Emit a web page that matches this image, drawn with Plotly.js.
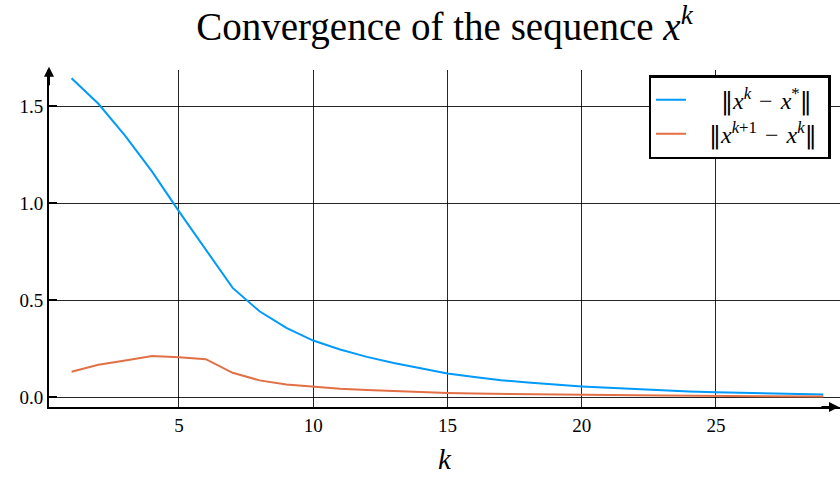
<!DOCTYPE html>
<html>
<head>
<meta charset="utf-8">
<script src="https://cdn.plot.ly/plotly-3.0.1.min.js"></script>
<style>
  body { margin: 0; background: #fff; }
  #chart { width: 840px; height: 477px; }
</style>
</head>
<body>
<div id="chart"></div>
<script>
// iteration index
const k = [1, 2, 3, 4, 5, 6, 7, 8, 9, 10, 11, 12, 13, 14, 15, 16, 17, 18, 19, 20,
           21, 22, 23, 24, 25, 26, 27, 28, 29];

// ||x^k - x^*||
const errStar = [1.644, 1.512, 1.347, 1.163, 0.958, 0.761, 0.564, 0.444, 0.358, 0.293,
                 0.247, 0.209, 0.178, 0.151, 0.124, 0.105, 0.089, 0.077, 0.066, 0.057,
                 0.050, 0.043, 0.037, 0.031, 0.027, 0.023, 0.020, 0.017, 0.015];

// ||x^{k+1} - x^k||
const errStep = [0.132, 0.168, 0.190, 0.214, 0.207, 0.197, 0.127, 0.088, 0.067, 0.055,
                 0.045, 0.039, 0.033, 0.028, 0.023, 0.020, 0.018, 0.016, 0.014, 0.013,
                 0.012, 0.011, 0.010, 0.009, 0.008, 0.007, 0.006, 0.006, 0.005];

const xTicks = [5, 10, 15, 20, 25];
const yTicks = [0, 0.5, 1.0, 1.5];
const yTickText = ['0.0', '0.5', '1.0', '1.5'];

const serif = '"Liberation Serif", "DejaVu Serif", serif';
// the double bar is missing from Liberation Serif, take it from DejaVu Serif
const bar = '<span style="font-family:DejaVu Serif">‖</span>';
const sp = '\u00a0';
const minus = '\u2004−\u2004';

const traces = [
    {
        x: k, y: errStar,
        mode: 'lines', type: 'scatter',
        name: sp.repeat(5) + bar + '<i>x</i><sup><i>k</i></sup>' + minus + '<i>x</i><sup>*</sup>' + bar,
        line: { color: '#009AFA', width: 2 }
    },
    {
        x: k, y: errStep,
        mode: 'lines', type: 'scatter',
        name: sp.repeat(3) + bar + '<i>x</i><sup><i>k</i>+1</sup>' + minus + '<i>x</i><sup><i>k</i></sup>' + bar + sp,
        line: { color: '#E26F46', width: 2 }
    }
];

const layout = {
    width: 840,
    height: 477,
    margin: { l: 49, r: 0, t: 70, b: 70 },
    paper_bgcolor: '#fff',
    plot_bgcolor: '#fff',
    font: { family: serif, color: '#000', size: 18 },
    title: {
        text: 'Convergence of the sequence <i>x</i><sup><i>k</i></sup>',
        font: { family: serif, size: 39, color: '#000' },
        xref: 'paper', x: 0.5, xanchor: 'center', y: 0.945, yanchor: 'middle'
    },
    xaxis: {
        range: [0.16, 29.62],
        tickvals: xTicks,
        showgrid: true, gridcolor: 'rgba(0,0,0,0.85)', gridwidth: 1,
        showline: true, linecolor: '#000', linewidth: 2,
        zeroline: false,
        ticks: '', tickfont: { family: serif, size: 19 },
        title: { text: '<i>k</i>', font: { family: serif, size: 29 }, standoff: 14 }
    },
    yaxis: {
        range: [-0.049, 1.686],
        tickvals: yTicks, ticktext: yTickText,
        showgrid: true, gridcolor: 'rgba(0,0,0,0.85)', gridwidth: 1,
        showline: true, linecolor: '#000', linewidth: 2,
        zeroline: false,
        ticks: 'inside', ticklen: 8, tickwidth: 2, tickcolor: '#000',
        tickfont: { family: serif, size: 19 }
    },
    legend: {
        x: 0.988, y: 0.985, xanchor: 'right', yanchor: 'top',
        bgcolor: '#fff', bordercolor: '#000', borderwidth: 2.5,
        font: { family: serif, size: 24 },
        tracegroupgap: 0
    },
    annotations: [
        {   // arrow on top of the y axis
            xref: 'paper', yref: 'paper', x: 0, y: 1.01,
            ax: 0, ay: 20, text: '', showarrow: true,
            arrowhead: 2, arrowsize: 1, arrowwidth: 2, arrowcolor: '#000'
        },
        {   // arrow at the end of the x axis
            xref: 'paper', yref: 'paper', x: 1, y: 0,
            ax: -20, ay: 0, text: '', showarrow: true,
            arrowhead: 2, arrowsize: 1, arrowwidth: 2, arrowcolor: '#000'
        }
    ]
};

Plotly.newPlot('chart', traces, layout, { displayModeBar: false, staticPlot: true });
</script>
</body>
</html>
